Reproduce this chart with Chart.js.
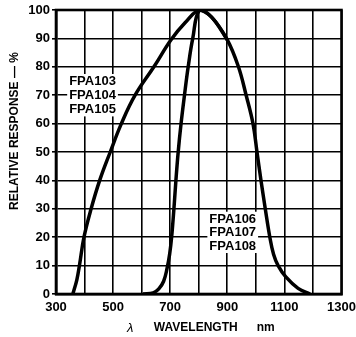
<!DOCTYPE html>
<html><head><meta charset="utf-8">
<script src="https://cdn.jsdelivr.net/npm/chart.js@4/dist/chart.umd.min.js"></script>
<style>html,body{margin:0;padding:0;background:#fff;}canvas{display:block;}</style>
</head><body>
<canvas id="c" width="356" height="337"></canvas>
<script>
// ---- data ----
const broadRiseWl   = [359, 373, 382, 398, 423, 453, 490, 529, 577, 643, 703, 752, 803];
const broadRiseResp = [0,   5,   10,  20,  30,  40,  50,  60,  70,  80,  89.5, 95.5, 100];
const narrowRiseWl   = [605, 640, 660, 677, 689, 698, 705, 713, 720, 728, 738, 750, 763, 779, 803];
const narrowRiseResp = [0,   0.4, 1.8, 4.5, 9,   14,  20,  30,  40,  50,  60,  70,  80,  90,  100];
const fallWl   = [803, 845, 900, 939, 966, 990, 1004, 1018, 1033, 1049, 1062, 1078, 1105, 1148, 1190];
const fallResp = [100, 97.5, 89.5, 80, 70, 60, 50, 40, 30, 20, 14, 10, 6, 2, 0];
const groupA = ['FPA103', 'FPA104', 'FPA105'];
const groupB = ['FPA106', 'FPA107', 'FPA108'];
const xLabelled = [300, 500, 700, 900, 1100, 1300];
const yTitle = 'RELATIVE RESPONSE — %';
const xTitleParts = ['λ', 'WAVELENGTH', 'nm'];

const FONT = '"Liberation Sans", Arial, Helvetica, sans-serif';
const toPts = (xs, ys) => xs.map((x, i) => ({x, y: ys[i]}));

const broadCurve = toPts(broadRiseWl, broadRiseResp).concat(toPts(fallWl.slice(1), fallResp.slice(1)));
const narrowCurve = toPts(narrowRiseWl, narrowRiseResp).concat(toPts(fallWl.slice(1, 3), fallResp.slice(1, 3)));

const annot = {
  id: 'annot',
  afterDraw(chart) {
    const {ctx, chartArea: a, scales: {x, y}} = chart;
    ctx.save();
    ctx.strokeStyle = '#000';
    ctx.lineWidth = 2.6;
    ctx.strokeRect(a.left, a.top, a.right - a.left, a.bottom - a.top);
    ctx.font = 'bold 13px ' + FONT;
    ctx.textAlign = 'center';
    ctx.textBaseline = 'middle';
    const drawGroup = (names, cxVal, yVals) => {
      const cx = x.getPixelForValue(cxVal);
      const ys = yVals.map(v => y.getPixelForValue(v));
      const w = Math.max(...names.map(n => ctx.measureText(n).width));
      ctx.fillStyle = '#fff';
      ctx.fillRect(cx - w / 2 - 2, ys[0] - 7, w + 4, ys[ys.length - 1] - ys[0] + 14);
      ctx.fillStyle = '#000';
      names.forEach((n, i) => ctx.fillText(n, cx, ys[i] + 0.5));
    };
    drawGroup(groupA, 428, [75, 70, 65]);
    drawGroup(groupB, 919, [26.5, 21.7, 16.9]);
    ctx.save();
    ctx.translate(15, a.top + 0.426 * (a.bottom - a.top));
    ctx.rotate(-Math.PI / 2);
    ctx.font = 'bold 12px ' + FONT;
    ctx.fillText(yTitle, 0, 0);
    ctx.restore();
    const cx = (a.left + a.right) / 2;
    const ty = a.bottom + 34;
    ctx.font = 'italic 13px ' + FONT;
    ctx.fillText(xTitleParts[0], cx - 68.5, ty);
    ctx.font = 'bold 12px ' + FONT;
    ctx.fillText(xTitleParts[1], cx - 3, ty);
    ctx.fillText(xTitleParts[2], cx + 67, ty);
    ctx.restore();
  }
};

new Chart(document.getElementById('c'), {
  type: 'line',
  data: {
    datasets: [
      {data: broadCurve, borderColor: '#000', borderWidth: 3.5, pointRadius: 0, tension: 0.4, fill: false},
      {data: narrowCurve, borderColor: '#000', borderWidth: 3.5, pointRadius: 0, tension: 0.4, fill: false}
    ]
  },
  options: {
    responsive: false,
    animation: false,
    events: [],
    layout: {padding: {top: 10, right: 14, left: 0, bottom: 0}},
    plugins: {legend: {display: false}, tooltip: {enabled: false}},
    scales: {
      x: {
        type: 'linear', min: 300, max: 1300,
        afterFit(s) { s.height = 43; s.paddingRight = 14.5; s.paddingLeft = 0; },
        border: {display: true, color: '#000', width: 2.6},
        grid: {color: '#000', lineWidth: 1.6, drawTicks: false},
        ticks: {
          stepSize: 100, autoSkip: false, maxRotation: 0, padding: 6,
          color: '#000', font: {family: FONT, size: 13, weight: 'bold'},
          callback: v => xLabelled.includes(v) ? String(v) : ''
        }
      },
      y: {
        min: 0, max: 100,
        afterFit(s) { s.width = 56; },
        border: {display: true, color: '#000', width: 2.6},
        grid: {color: '#000', lineWidth: 1.6, drawTicks: true, tickLength: 4},
        ticks: {stepSize: 10, padding: 2, color: '#000', font: {family: FONT, size: 13, weight: 'bold'}}
      }
    }
  },
  plugins: [annot]
});
</script>
</body></html>
